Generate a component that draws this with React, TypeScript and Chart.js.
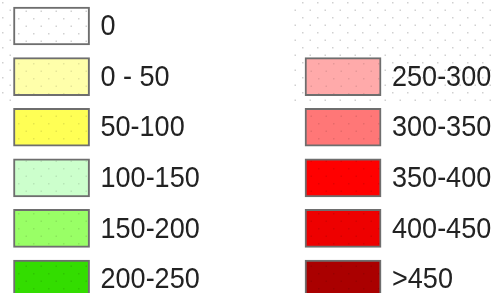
import React, { useEffect, useRef } from "react";
import { Chart, registerables } from "chart.js";

Chart.register(...registerables);

// Legend classes (categories) and their fill colours
const categories = ["0", "0 - 50", "50-100", "100-150", "150-200", "200-250", "250-300", "300-350", "350-400", "400-450", ">450"];
const colors = ["#FFFFFF", "#FFFFAA", "#FFFF55", "#CCFFCC", "#99FF66", "#33DD00", "#FFAAAA", "#FF7777", "#FF0000", "#EE0000", "#AA0000"];
// Position of each class in the legend grid
const columnOf = [0, 0, 0, 0, 0, 0, 1, 1, 1, 1, 1];
const rowOf = [0, 1, 2, 3, 4, 5, 1, 2, 3, 4, 5];

const SWATCH_W = 0.261; // swatch width in column units

function makePattern(color: string): CanvasPattern | string {
  const c = document.createElement("canvas");
  c.width = 15;
  c.height = 15;
  const g = c.getContext("2d");
  if (!g) return color;
  g.fillStyle = color;
  g.fillRect(0, 0, 15, 15);
  g.fillStyle = color === "#FFFFFF" ? "rgba(0,0,0,0.18)" : "rgba(0,0,0,0.10)";
  g.fillRect(3, 3, 1.5, 1.5);
  g.fillRect(10.5, 10.5, 1.5, 1.5);
  const p = g.createPattern(c, "repeat");
  return p || color;
}

const bgPlugin = {
  id: "dotBg",
  beforeDraw(chart: any) {
    const { ctx, width } = chart;
    ctx.save();
    ctx.fillStyle = "#FFFFFF";
    ctx.fillRect(0, 0, width, chart.height);
    ctx.fillStyle = "rgba(150,150,150,0.45)";
    for (let r = 0; r * 7.5 < 100; r++) {
      const y = 2 + r * 7.5;
      const off = r % 2 === 0 ? 0 : 7.5;
      for (let x = off + 2; x < width; x += 15) {
        if (x < 10 || x > 290) ctx.fillRect(x, y, 1.5, 1.5);
      }
    }
    ctx.restore();
  },
};

const labelPlugin = {
  id: "swatchLabels",
  afterDatasetsDraw(chart: any) {
    const { ctx } = chart;
    const meta = chart.getDatasetMeta(0);
    ctx.save();
    ctx.fillStyle = "#222222";
    ctx.font = "30px 'Liberation Sans', Arial, sans-serif";
    ctx.textBaseline = "middle";
    ctx.textAlign = "left";
    meta.data.forEach((bar: any, i: number) => {
      const { x, y } = bar.getProps(["x", "y"], true);
      ctx.save();
      ctx.translate(x + 11, y + 1);
      ctx.scale(0.9, 1);
      ctx.fillText(categories[i], 0, 0);
      ctx.restore();
    });
    ctx.restore();
  },
};

export default function App() {
  const ref = useRef<HTMLCanvasElement | null>(null);
  useEffect(() => {
    if (!ref.current) return;
    const data = categories.map((_, i) => ({ x: [columnOf[i], columnOf[i] + SWATCH_W], y: rowOf[i] }));
    const chart = new Chart(ref.current, {
      type: "bar",
      data: {
        datasets: [
          {
            data: data as any,
            backgroundColor: colors.map(makePattern) as any,
            borderColor: "#6E6E6E",
            borderWidth: 2,
            borderSkipped: false,
            barThickness: 38,
          },
        ],
      },
      options: {
        indexAxis: "y",
        animation: false,
        responsive: false,
        devicePixelRatio: 1,
        layout: { padding: 0 },
        scales: {
          x: { type: "linear", display: false, offset: false, min: -0.0463, max: 1.6518 },
          y: { type: "linear", display: false, offset: false, reverse: true, min: -0.514, max: 5.276 },
        },
        plugins: { legend: { display: false }, tooltip: { enabled: false } },
      },
      plugins: [bgPlugin, labelPlugin],
    });
    return () => chart.destroy();
  }, []);
  return (
    <div style={{ position: "fixed", left: 0, top: 0, width: 495, height: 293, background: "#fff" }}>
      <canvas ref={ref} width={495} height={293} style={{ width: 495, height: 293 }} />
    </div>
  );
}
